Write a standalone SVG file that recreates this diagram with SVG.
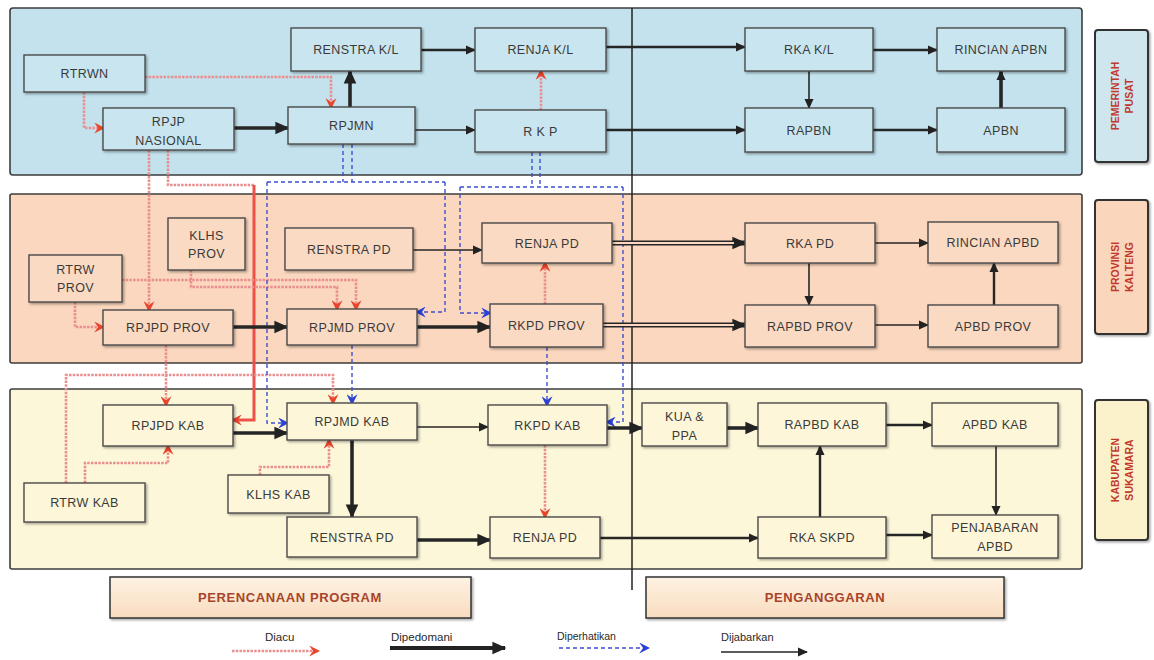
<svg xmlns="http://www.w3.org/2000/svg" width="1154" height="660" viewBox="0 0 1154 660">
<defs>
<style>
.band{stroke:#3d3d3d;stroke-width:1.6}
.n rect{stroke:#4a4a4a;stroke-width:1.4;filter:url(#sh)}
.b1 rect{fill:#c9e6f0}
.b2 rect{fill:#fbdac3}
.b3 rect{fill:#fdf6d8}
.t{font-family:"Liberation Sans",Arial,sans-serif;font-size:12.5px;fill:#3a3a3a;text-anchor:middle;letter-spacing:0.4px}
.k{stroke:#262626;fill:none;stroke-width:1.6}
.k2{stroke:#262626;fill:none;stroke-width:2.4}
.k3{stroke:#262626;fill:none;stroke-width:3.6}
.p{stroke:#ea8f8f;stroke-width:2.6;stroke-dasharray:2.5 1.2;fill:none}
.bl{stroke:#3d50d0;stroke-width:1.4;stroke-dasharray:4 3;fill:none}
.side rect{stroke:#333;stroke-width:2;filter:url(#sh)}
.st{font-family:"Liberation Sans",Arial,sans-serif;font-size:10.5px;font-weight:bold;fill:#c0392b;text-anchor:middle}
.lg rect{stroke:#333;stroke-width:1.5;fill:url(#lgf);filter:url(#sh)}
.lt{font-family:"Liberation Sans",Arial,sans-serif;font-size:13px;font-weight:bold;fill:#a8442c;text-anchor:middle;letter-spacing:0.6px}
.leg{font-family:"Liberation Sans",Arial,sans-serif;font-size:11.5px;fill:#2a2a2a}
</style>
<filter id="sh" x="-10%" y="-10%" width="130%" height="140%"><feDropShadow dx="1.5" dy="1.5" stdDeviation="0.8" flood-color="#000" flood-opacity="0.35"/></filter>
<linearGradient id="lgf" x1="0" y1="0" x2="0" y2="1"><stop offset="0" stop-color="#fdf2e2"/><stop offset="1" stop-color="#f9dcbf"/></linearGradient>
<marker id="mk" viewBox="0 0 10 10" refX="9" refY="5" markerWidth="10" markerHeight="10" markerUnits="userSpaceOnUse" orient="auto"><path d="M0,0.5 L10,5 L0,9.5 z" fill="#222"/></marker>
<marker id="mkL" viewBox="0 0 10 10" refX="9" refY="5" markerWidth="14" markerHeight="14" markerUnits="userSpaceOnUse" orient="auto"><path d="M0,0.5 L10,5 L0,9.5 z" fill="#222"/></marker>
<marker id="mr" viewBox="0 0 10 10" refX="8" refY="5" markerWidth="11" markerHeight="11" markerUnits="userSpaceOnUse" orient="auto"><path d="M0,0 L10,5 L0,10 L3.5,5 z" fill="#e8452c"/></marker>
<marker id="mb" viewBox="0 0 10 10" refX="8" refY="5" markerWidth="11" markerHeight="11" markerUnits="userSpaceOnUse" orient="auto"><path d="M0,0 L10,5 L0,10 L3.5,5 z" fill="#2b41d6"/></marker>
</defs>
<rect x="0" y="0" width="1154" height="660" fill="#ffffff"/>

<g id="bands">
<rect class="band" x="10" y="8" width="1072" height="167" rx="3" fill="#c3e2ed"/>
<rect class="band" x="10" y="194" width="1072" height="169" rx="2" fill="#fad7be"/>
<rect class="band" x="10" y="389" width="1072" height="180" rx="2" fill="#fdf7d9"/>
<path d="M632,8 V590" stroke="#222" stroke-width="1.5"/>
</g>

<g id="connectors">
<!-- Diacu (red/pink) -->
<path class="p" d="M145,77 H331 V107" marker-end="url(#mr)"/>
<path class="p" d="M84,92 V128 H103" marker-end="url(#mr)"/>
<path class="p" d="M149,150 V310" marker-end="url(#mr)"/>
<path class="p" d="M168,150 V185 H254"/>
<path d="M254,185 V420 H233" fill="none" stroke="#f0504a" stroke-width="3" marker-end="url(#mr)"/>
<path class="p" d="M122,280 H356 V309" marker-end="url(#mr)"/>
<path class="p" d="M191,270 V287 H337 V309" marker-end="url(#mr)"/>
<path class="p" d="M75,302 V327 H103" marker-end="url(#mr)"/>
<path class="p" d="M545,304 V263" marker-end="url(#mr)"/>
<path class="p" d="M166,345 V405" marker-end="url(#mr)"/>
<path class="p" d="M66,483 V375 H333 V403" marker-end="url(#mr)"/>
<path class="p" d="M85,483 V463 H168 V446" marker-end="url(#mr)"/>
<path class="p" d="M260,475 V467 H329 V440" marker-end="url(#mr)"/>
<path class="p" d="M545,445 V517" marker-end="url(#mr)"/>
<path class="p" d="M541,110 V71" marker-end="url(#mr)"/>

<!-- Diperhatikan (blue dashed) -->
<path class="bl" d="M343,144 V182 M352,144 V182 M267,182 H445"/>
<path class="bl" d="M267,182 V423 H287" marker-end="url(#mb)"/>
<path class="bl" d="M445,182 V312 H417" marker-end="url(#mb)"/>
<path class="bl" d="M532,152 V187 M540,152 V187 M460,187 H623"/>
<path class="bl" d="M460,187 V313 H490" marker-end="url(#mb)"/>
<path class="bl" d="M623,187 V422 H607" marker-end="url(#mb)"/>
<path class="bl" d="M352,345 V403" marker-end="url(#mb)"/>
<path class="bl" d="M547,347 V405" marker-end="url(#mb)"/>

<!-- Dipedomani / Dijabarkan (black) -->
<path class="k3" d="M234,128 H288" marker-end="url(#mkL)"/>
<path class="k3" d="M350,107 V71" marker-end="url(#mkL)"/>
<path class="k2" d="M421,50 H475" marker-end="url(#mk)"/>
<path class="k" d="M415,130 H475" marker-end="url(#mk)"/>
<path class="k2" d="M606,47 H745" marker-end="url(#mk)"/>
<path class="k2" d="M606,130 H745" marker-end="url(#mk)"/>
<path class="k2" d="M873,50 H937" marker-end="url(#mk)"/>
<path class="k" d="M809,71 V108" marker-end="url(#mk)"/>
<path class="k2" d="M873,130 H937" marker-end="url(#mk)"/>
<path class="k3" d="M1001,108 V71" marker-end="url(#mk)"/>

<path class="k3" d="M233,327 H287" marker-end="url(#mkL)"/>
<path class="k" d="M413,250 H482" marker-end="url(#mk)"/>
<path class="k3" d="M417,327 H490" marker-end="url(#mkL)"/>
<path d="M612,243 H745" stroke="#262626" stroke-width="5" fill="none" marker-end="url(#mkL)"/>
<path d="M612,243 H734" stroke="#fad7be" stroke-width="1.8" fill="none"/>
<path d="M603,325 H745" stroke="#262626" stroke-width="5" fill="none" marker-end="url(#mkL)"/>
<path d="M603,325 H734" stroke="#fad7be" stroke-width="1.8" fill="none"/>
<path class="k" d="M875,243 H928" marker-end="url(#mk)"/>
<path class="k" d="M809,263 V305" marker-end="url(#mk)"/>
<path class="k" d="M875,325 H928" marker-end="url(#mk)"/>
<path class="k2" d="M994,305 V263" marker-end="url(#mk)"/>

<path class="k3" d="M233,433 H287" marker-end="url(#mkL)"/>
<path class="k" d="M417,427 H488" marker-end="url(#mk)"/>
<path class="k3" d="M352,440 V517" marker-end="url(#mkL)"/>
<path class="k3" d="M417,540 H490" marker-end="url(#mkL)"/>
<path class="k3" d="M607,428 H642" marker-end="url(#mkL)"/>
<path class="k3" d="M727,428 H758" marker-end="url(#mkL)"/>
<path class="k2" d="M886,425 H932" marker-end="url(#mk)"/>
<path class="k2" d="M820,517 V446" marker-end="url(#mk)"/>
<path class="k" d="M996,446 V515" marker-end="url(#mk)"/>
<path class="k2" d="M600,538 H758" marker-end="url(#mk)"/>
<path class="k2" d="M886,535 H932" marker-end="url(#mk)"/>
</g>

<!-- Band 1 nodes -->
<g id="rtrwn" class="n b1"><rect x="24" y="55" width="121" height="37"/><text class="t" x="84.5" y="78">RTRWN</text></g>
<g id="rpjp-nasional" class="n b1"><rect x="103" y="108" width="131" height="42"/><text class="t" x="168.5" y="126">RPJP</text><text class="t" x="168.5" y="145">NASIONAL</text></g>
<g id="renstra-kl" class="n b1"><rect x="291" y="28" width="130" height="43"/><text class="t" x="356" y="54">RENSTRA  K/L</text></g>
<g id="rpjmn" class="n b1"><rect x="288" y="107" width="127" height="37"/><text class="t" x="351.5" y="130">RPJMN</text></g>
<g id="renja-kl" class="n b1"><rect x="475" y="28" width="131" height="43"/><text class="t" x="540.5" y="54">RENJA  K/L</text></g>
<g id="rkp" class="n b1"><rect x="475" y="110" width="131" height="42"/><text class="t" x="540.5" y="135.5">R K P</text></g>
<g id="rka-kl" class="n b1"><rect x="745" y="28" width="128" height="43"/><text class="t" x="809" y="54">RKA K/L</text></g>
<g id="rincian-apbn" class="n b1"><rect x="937" y="28" width="128" height="43"/><text class="t" x="1001" y="54">RINCIAN APBN</text></g>
<g id="rapbn" class="n b1"><rect x="745" y="108" width="128" height="44"/><text class="t" x="809" y="134.5">RAPBN</text></g>
<g id="apbn" class="n b1"><rect x="937" y="108" width="128" height="44"/><text class="t" x="1001" y="134.5">APBN</text></g>

<!-- Band 2 nodes -->
<g id="klhs-prov" class="n b2"><rect x="168" y="218" width="77" height="52"/><text class="t" x="206.5" y="240">KLHS</text><text class="t" x="206.5" y="258">PROV</text></g>
<g id="rtrw-prov" class="n b2"><rect x="29" y="255" width="93" height="47"/><text class="t" x="75.5" y="274">RTRW</text><text class="t" x="75.5" y="292">PROV</text></g>
<g id="renstra-pd-prov" class="n b2"><rect x="285" y="228" width="128" height="42"/><text class="t" x="349" y="253.5">RENSTRA  PD</text></g>
<g id="renja-pd-prov" class="n b2"><rect x="482" y="223" width="130" height="40"/><text class="t" x="547" y="247.5">RENJA  PD</text></g>
<g id="rpjpd-prov" class="n b2"><rect x="103" y="310" width="130" height="35"/><text class="t" x="168" y="332">RPJPD PROV</text></g>
<g id="rpjmd-prov" class="n b2"><rect x="287" y="309" width="130" height="36"/><text class="t" x="352" y="331.5">RPJMD PROV</text></g>
<g id="rkpd-prov" class="n b2"><rect x="490" y="304" width="113" height="43"/><text class="t" x="546.5" y="330">RKPD PROV</text></g>
<g id="rka-pd" class="n b2"><rect x="745" y="223" width="130" height="40"/><text class="t" x="810" y="247.5">RKA PD</text></g>
<g id="rincian-apbd" class="n b2"><rect x="928" y="222" width="130" height="41"/><text class="t" x="993" y="247">RINCIAN APBD</text></g>
<g id="rapbd-prov" class="n b2"><rect x="745" y="305" width="130" height="42"/><text class="t" x="810" y="330.5">RAPBD PROV</text></g>
<g id="apbd-prov" class="n b2"><rect x="928" y="305" width="130" height="42"/><text class="t" x="993" y="330.5">APBD PROV</text></g>

<!-- Band 3 nodes -->
<g id="rpjpd-kab" class="n b3"><rect x="103" y="405" width="130" height="41"/><text class="t" x="168" y="430">RPJPD KAB</text></g>
<g id="rpjmd-kab" class="n b3"><rect x="287" y="403" width="130" height="37"/><text class="t" x="352" y="426">RPJMD KAB</text></g>
<g id="rkpd-kab" class="n b3"><rect x="488" y="405" width="119" height="40"/><text class="t" x="547.5" y="429.5">RKPD KAB</text></g>
<g id="kua-ppa" class="n b3"><rect x="642" y="403" width="85" height="43"/><text class="t" x="684.5" y="421">KUA &amp;</text><text class="t" x="684.5" y="440">PPA</text></g>
<g id="rapbd-kab" class="n b3"><rect x="758" y="403" width="128" height="43"/><text class="t" x="822" y="429">RAPBD KAB</text></g>
<g id="apbd-kab" class="n b3"><rect x="932" y="403" width="126" height="43"/><text class="t" x="995" y="429">APBD KAB</text></g>
<g id="rtrw-kab" class="n b3"><rect x="24" y="483" width="121" height="39"/><text class="t" x="84.5" y="507">RTRW KAB</text></g>
<g id="klhs-kab" class="n b3"><rect x="228" y="475" width="101" height="38"/><text class="t" x="278.5" y="498.5">KLHS KAB</text></g>
<g id="renstra-pd-kab" class="n b3"><rect x="287" y="517" width="130" height="40"/><text class="t" x="352" y="541.5">RENSTRA PD</text></g>
<g id="renja-pd-kab" class="n b3"><rect x="490" y="517" width="110" height="41"/><text class="t" x="545" y="542">RENJA PD</text></g>
<g id="rka-skpd" class="n b3"><rect x="758" y="517" width="128" height="41"/><text class="t" x="822" y="542">RKA SKPD</text></g>
<g id="penjabaran-apbd" class="n b3"><rect x="932" y="515" width="126" height="43"/><text class="t" x="995" y="532">PENJABARAN</text><text class="t" x="995" y="551">APBD</text></g>

<!-- Side labels -->
<g id="side-pusat" class="side"><rect x="1095" y="30" width="53" height="132" rx="3" fill="#cfe6ef"/><g transform="translate(1121,96) rotate(-90)"><text class="st" x="0" y="-2">PEMERINTAH</text><text class="st" x="0" y="12">PUSAT</text></g></g>
<g id="side-prov" class="side"><rect x="1095" y="200" width="53" height="134" rx="3" fill="#f9d6bc"/><g transform="translate(1121,267) rotate(-90)"><text class="st" x="0" y="-2">PROVINSI</text><text class="st" x="0" y="12">KALTENG</text></g></g>
<g id="side-kab" class="side"><rect x="1095" y="400" width="53" height="140" rx="3" fill="#fbf1cb"/><g transform="translate(1121,470) rotate(-90)"><text class="st" x="0" y="-2">KABUPATEN</text><text class="st" x="0" y="12">SUKAMARA</text></g></g>

<!-- Bottom labels -->
<g id="perencanaan" class="lg"><rect x="110" y="577" width="361" height="41"/><text class="lt" x="290" y="602">PERENCANAAN PROGRAM</text></g>
<g id="penganggaran" class="lg"><rect x="646" y="577" width="358" height="41"/><text class="lt" x="825" y="602">PENGANGGARAN</text></g>

<!-- Legend -->
<g id="legend">
<text class="leg" x="265" y="641">Diacu</text>
<path class="p" d="M232,651 H318" marker-end="url(#mr)"/>
<text class="leg" x="391" y="641">Dipedomani</text>
<path d="M390,648 H505" stroke="#222" stroke-width="4" fill="none" marker-end="url(#mkL)"/>
<text class="leg" x="557" y="640" style="font-size:10.5px">Diperhatikan</text>
<path class="bl" d="M559,648 H648" marker-end="url(#mb)"/>
<text class="leg" x="721" y="641" style="font-size:11px">Dijabarkan</text>
<path class="k" d="M721,652 H807" marker-end="url(#mk)"/>
</g>
</svg>
